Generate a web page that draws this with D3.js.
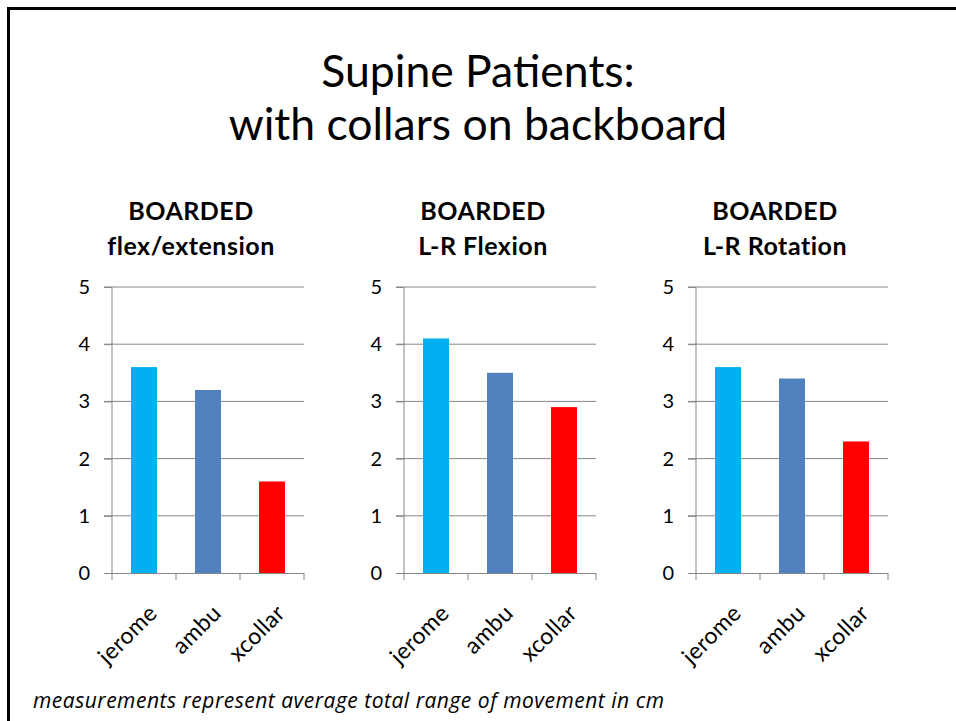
<!DOCTYPE html>
<html>
<head>
<title>Supine Patients: with collars on backboard</title>
<style>
body { margin: 0; background: #fff; }
text { font-family: Lato, "Open Sans", sans-serif; }
text.note { font-family: "Open Sans", sans-serif; }
</style>
</head>
<body>
<div id="svg-container"></div>
<script src="https://d3js.org/d3.v7.min.js"></script>
<script>
const width = 956;
const height = 721;

// data
const categories = ["jerome", "ambu", "xcollar"];
const barColors = ["#00B0F0", "#4F81BD", "#FF0000"];
const chartTitles = [
  ["BOARDED", "flex/extension"],
  ["BOARDED", "L-R Flexion"],
  ["BOARDED", "L-R Rotation"]
];
const flexExtension = [3.6, 3.2, 1.6];
const lrFlexion = [4.1, 3.5, 2.9];
const lrRotation = [3.6, 3.4, 2.3];
const yTicks = [0, 1, 2, 3, 4, 5];

const seriesList = [flexExtension, lrFlexion, lrRotation];

const svg = d3.select("#svg-container")
  .append("svg")
  .attr("width", width)
  .attr("height", height);

svg.append("rect")
    .attr("width", width)
    .attr("height", height)
    .attr("fill", "#fff");

// slide frame (runs off right and bottom)
svg.append("rect")
    .attr("x", 8.5)
    .attr("y", 8.5)
    .attr("width", 1000)
    .attr("height", 1000)
    .attr("fill", "none")
    .attr("stroke", "#000")
    .attr("stroke-width", 3);

// Title
const title = svg.append("text")
    .attr("text-anchor", "middle")
    .attr("font-size", 44.5)
    .attr("fill", "#000");
title.append("tspan").attr("x", 478).attr("y", 87).text("Supine Patients:");
title.append("tspan").attr("x", 478).attr("y", 140).text("with collars on backboard");

// Charts
const plotW = 192;
const plotTop = 287;
const plotBottom = 573;
const chartLeft = [112, 404, 696];

const y = d3.scaleLinear().domain([0, 5]).range([plotBottom, plotTop]);

seriesList.forEach((values, ci) => {
  const g = svg.append("g").attr("transform", `translate(${chartLeft[ci]},0)`);
  const x = d3.scaleBand().domain(categories).range([0, plotW]).paddingInner(0.594).paddingOuter(0.297);

  // gridlines
  g.append("g")
    .selectAll("line")
    .data(yTicks.filter(d => d > 0))
    .join("line")
      .attr("x1", -8)
      .attr("x2", plotW)
      .attr("y1", d => y(d))
      .attr("y2", d => y(d))
      .attr("stroke", "#868686")
      .attr("stroke-width", 1);

  // bars
  g.append("g")
    .selectAll("rect")
    .data(values)
    .join("rect")
      .attr("x", (d, i) => x(categories[i]))
      .attr("y", d => y(d))
      .attr("width", x.bandwidth())
      .attr("height", d => y(0) - y(d))
      .attr("fill", (d, i) => barColors[i]);

  // y axis
  const yAxis = g.append("g")
    .call(d3.axisLeft(y).tickValues(yTicks).tickFormat(d3.format("d")).tickSize(8).tickPadding(14));
  yAxis.select(".domain").attr("stroke", "#868686").attr("d", `M0,${plotTop}V${plotBottom}`);
  yAxis.selectAll(".tick line").attr("stroke", "#868686");
  yAxis.selectAll(".tick text")
    .attr("font-family", "Lato, 'Open Sans', sans-serif")
    .attr("font-size", 20)
    .attr("fill", "#000");

  // x axis
  const xEdges = d3.range(categories.length + 1).map(i => i * plotW / categories.length);
  const xAxis = g.append("g");
  xAxis.append("line")
    .attr("x1", -8).attr("x2", plotW)
    .attr("y1", plotBottom + 0.5).attr("y2", plotBottom + 0.5)
    .attr("stroke", "#868686");
  xAxis.selectAll(".xt")
    .data(xEdges)
    .join("line")
      .attr("class", "xt")
      .attr("x1", d => d).attr("x2", d => d)
      .attr("y1", plotBottom).attr("y2", plotBottom + 7)
      .attr("stroke", "#868686");
  xAxis.selectAll(".xl")
    .data(categories)
    .join("text")
      .attr("class", "xl")
      .attr("text-anchor", "end")
      .attr("font-size", 23)
      .attr("letter-spacing", 0.4)
      .attr("fill", "#000")
      .attr("transform", d => `translate(${x(d) + x.bandwidth() / 2 + 3},${plotBottom + 30}) rotate(-45)`)
      .attr("dy", "0.71em")
      .text(d => d);

  // chart title
  const t = g.append("text")
    .attr("text-anchor", "middle")
    .attr("font-size", 25)
    .attr("letter-spacing", 0.5)
    .attr("font-weight", "bold")
    .attr("fill", "#000");
  t.append("tspan").attr("x", plotW / 2 - 17).attr("y", 220).text(chartTitles[ci][0]);
  t.append("tspan").attr("x", plotW / 2 - 17).attr("y", 255).text(chartTitles[ci][1]);
});

// footnote
const note = svg.append("text")
    .attr("class", "note")
    .attr("x", 33)
    .attr("y", 708)
    .attr("font-size", 21)
    .attr("font-style", "italic")
    .attr("fill", "#000")
    .text("measurements represent average total range of movement in cm");
// fit to the measured width of the original line
note.attr("textLength", 631).attr("lengthAdjust", "spacing");
</script>
</body>
</html>
